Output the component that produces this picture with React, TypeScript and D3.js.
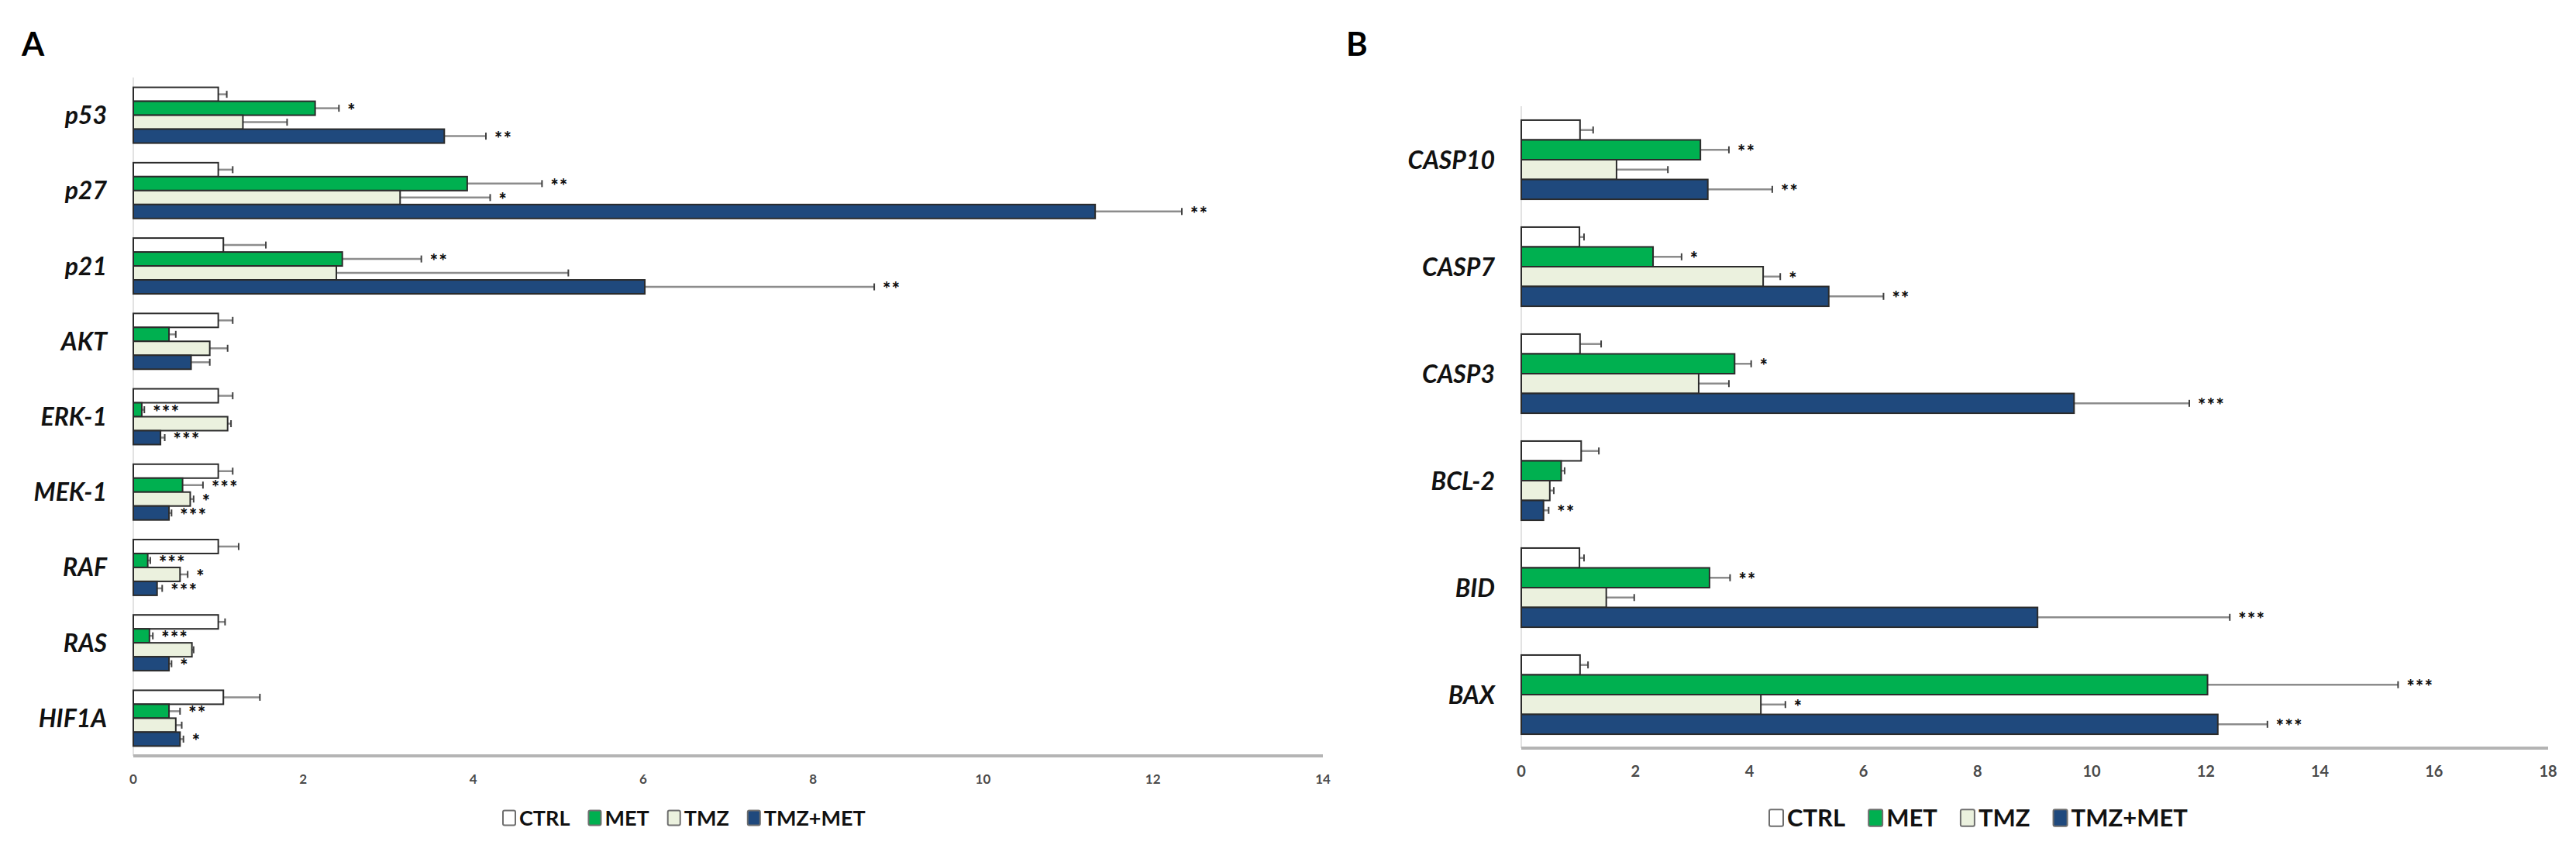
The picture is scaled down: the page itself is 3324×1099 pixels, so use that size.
import { useEffect, useRef } from 'react';
import * as d3 from 'd3';

const seriesNames = ['CTRL', 'MET', 'TMZ', 'TMZ+MET'];
const seriesColors = ['#ffffff', '#00b050', '#ebf1de', '#1f497d'];

// panel A
const genesA = ['p53', 'p27', 'p21', 'AKT', 'ERK-1', 'MEK-1', 'RAF', 'RAS', 'HIF1A'];
const ctrlA = [1.0, 1.0, 1.06, 1.0, 1.0, 1.0, 1.0, 1.0, 1.06];
const ctrlErrA = [0.1, 0.17, 0.5, 0.17, 0.17, 0.17, 0.24, 0.08, 0.43];
const metA = [2.14, 3.93, 2.46, 0.42, 0.1, 0.58, 0.17, 0.19, 0.42];
const metErrA = [0.28, 0.88, 0.93, 0.08, 0.03, 0.24, 0.03, 0.04, 0.13];
const tmzA = [1.29, 3.14, 2.39, 0.9, 1.11, 0.67, 0.55, 0.69, 0.5];
const tmzErrA = [0.52, 1.06, 2.73, 0.21, 0.04, 0.04, 0.09, 0.02, 0.07];
const comboA = [3.66, 11.32, 6.02, 0.68, 0.32, 0.42, 0.28, 0.42, 0.55];
const comboErrA = [0.49, 1.02, 2.7, 0.22, 0.05, 0.03, 0.06, 0.03, 0.04];
const sigMetA = ['*', '**', '**', '', '***', '***', '***', '***', '**'];
const sigTmzA = ['', '*', '', '', '', '*', '*', '', ''];
const sigComboA = ['**', '**', '**', '', '***', '***', '***', '*', '*'];
const ticksA = [0, 2, 4, 6, 8, 10, 12, 14];

// panel B
const genesB = ['CASP10', 'CASP7', 'CASP3', 'BCL-2', 'BID', 'BAX'];
const ctrlB = [1.03, 1.02, 1.03, 1.05, 1.02, 1.03];
const ctrlErrB = [0.23, 0.08, 0.37, 0.31, 0.08, 0.14];
const metB = [3.14, 2.31, 3.74, 0.7, 3.3, 12.03];
const metErrB = [0.5, 0.5, 0.29, 0.06, 0.36, 3.34];
const tmzB = [1.67, 4.24, 3.11, 0.5, 1.49, 4.2];
const tmzErrB = [0.9, 0.3, 0.53, 0.07, 0.49, 0.43];
const comboB = [3.27, 5.39, 9.69, 0.39, 9.05, 12.21];
const comboErrB = [1.13, 0.96, 2.02, 0.09, 3.37, 0.87];
const sigMetB = ['**', '*', '*', '', '**', '***'];
const sigTmzB = ['', '*', '', '', '', '*'];
const sigComboB = ['**', '**', '***', '**', '***', '***'];
const ticksB = [0, 2, 4, 6, 8, 10, 12, 14, 16, 18];

const FONT = 'Lato, "Open Sans", sans-serif';

interface Panel {
  letter: string; letterX: number;
  genes: string[]; vals: number[][]; errs: number[][]; sigs: string[][];
  ticks: number[]; xr: [number, number]; yr: [number, number];
  tickSize: number; legendX: number; legendSize: number; legendBox: number; legendGap: number;
}

function drawPanel(svg: d3.Selection<SVGSVGElement, unknown, null, undefined>, p: Panel) {
  const g = svg.append('g');
  const x = d3.scaleLinear().domain([0, p.ticks[p.ticks.length - 1]]).range(p.xr);
  const y = d3.scaleBand<string>().domain(p.genes).range(p.yr).paddingInner(0.26).paddingOuter(0.13);
  const sub = d3.scaleBand<number>().domain([0, 1, 2, 3]).range([0, y.bandwidth()]);

  g.append('text').attr('x', p.letterX).attr('y', 72).attr('font-family', FONT).attr('font-weight', 700)
    .attr('font-size', 42).attr('fill', '#000').text(p.letter);

  // vertical axis line
  g.append('line').attr('x1', p.xr[0]).attr('x2', p.xr[0]).attr('y1', p.yr[0]).attr('y2', p.yr[1])
    .attr('stroke', '#d9d9d9').attr('stroke-width', 1.5);

  // category labels
  g.selectAll('.cat').data(p.genes).enter().append('text')
    .attr('x', p.xr[0] - 34).attr('y', (d) => (y(d) ?? 0) + y.bandwidth() / 2)
    .attr('dy', '0.36em').attr('text-anchor', 'end')
    .attr('font-family', FONT).attr('font-weight', 700).attr('font-style', 'italic')
    .attr('font-size', 32).attr('fill', '#111').text((d) => d);

  p.vals.forEach((vals, s) => {
    const rows = p.genes.map((gene, i) => ({ gene, v: vals[i], e: p.errs[s][i], sig: p.sigs[s][i] }));
    const yc = (d: { gene: string }) => (y(d.gene) ?? 0) + (sub(s) ?? 0) + sub.bandwidth() / 2;

    // error bars
    g.selectAll(`.err${s}`).data(rows).enter().append('line')
      .attr('x1', (d) => x(d.v)).attr('x2', (d) => x(d.v + d.e))
      .attr('y1', yc).attr('y2', yc).attr('stroke', '#8c8c8c').attr('stroke-width', 2.5);
    g.selectAll(`.cap${s}`).data(rows).enter().append('line')
      .attr('x1', (d) => x(d.v + d.e)).attr('x2', (d) => x(d.v + d.e))
      .attr('y1', (d) => yc(d) - 4.5).attr('y2', (d) => yc(d) + 4.5)
      .attr('stroke', '#404040').attr('stroke-width', 2);

    g.selectAll(`.bar${s}`).data(rows).enter().append('rect')
      .attr('x', x(0)).attr('y', (d) => (y(d.gene) ?? 0) + (sub(s) ?? 0))
      .attr('width', (d) => x(d.v) - x(0)).attr('height', sub.bandwidth())
      .attr('fill', seriesColors[s]).attr('stroke', '#2b2b2b').attr('stroke-width', 2);

    g.selectAll(`.sig${s}`).data(rows.filter((d) => d.sig)).enter().append('text')
      .attr('x', (d) => x(d.v + d.e) + 11).attr('y', (d) => yc(d) + 12)
      .attr('font-family', FONT).attr('font-weight', 900).attr('font-size', 24)
      .attr('letter-spacing', 1.5).attr('fill', '#111').text((d) => d.sig);
  });

  // x axis
  const axisY = p.yr[1];
  g.append('line').attr('x1', p.xr[0]).attr('x2', p.xr[1]).attr('y1', axisY).attr('y2', axisY)
    .attr('stroke', '#b4b4b4').attr('stroke-width', 4);
  g.selectAll('.tick').data(p.ticks).enter().append('text')
    .attr('x', (d) => x(d)).attr('y', axisY + 30).attr('dy', '0.35em').attr('text-anchor', 'middle')
    .attr('font-family', FONT).attr('font-weight', 700).attr('font-size', p.tickSize)
    .attr('fill', '#4a4a4a').text((d) => String(d));

  // legend
  let lx = p.legendX;
  const ly = 1055;
  seriesNames.forEach((name, s) => {
    g.append('rect').attr('x', lx).attr('y', ly - p.legendBox * 0.6).attr('width', p.legendBox)
      .attr('height', p.legendBox * 1.2).attr('rx', 2)
      .attr('fill', seriesColors[s]).attr('stroke', '#6e6e6e').attr('stroke-width', 2);
    const t = g.append('text').attr('x', lx + p.legendBox + 5).attr('y', ly).attr('dy', '0.36em')
      .attr('font-family', FONT).attr('font-weight', 700).attr('font-size', p.legendSize)
      .attr('fill', '#111').text(name);
    const w = (t.node() as SVGTextElement).getComputedTextLength();
    lx += p.legendBox + 5 + w + p.legendGap;
  });
}

export default function App() {
  const ref = useRef<SVGSVGElement | null>(null);
  useEffect(() => {
    const svg = d3.select(ref.current!);
    svg.selectAll('*').remove();
    svg.append('rect').attr('width', 3324).attr('height', 1099).attr('fill', '#fff');
    drawPanel(svg, {
      letter: 'A', letterX: 28, genes: genesA,
      vals: [ctrlA, metA, tmzA, comboA], errs: [ctrlErrA, metErrA, tmzErrA, comboErrA],
      sigs: [genesA.map(() => ''), sigMetA, sigTmzA, sigComboA],
      ticks: ticksA, xr: [172, 1707], yr: [100, 975], tickSize: 17,
      legendX: 649, legendSize: 27, legendBox: 16, legendGap: 24,
    });
    drawPanel(svg, {
      letter: 'B', letterX: 1737, genes: genesB,
      vals: [ctrlB, metB, tmzB, comboB], errs: [ctrlErrB, metErrB, tmzErrB, comboErrB],
      sigs: [genesB.map(() => ''), sigMetB, sigTmzB, sigComboB],
      ticks: ticksB, xr: [1963, 3288], yr: [137, 965], tickSize: 20,
      legendX: 2283, legendSize: 31, legendBox: 18, legendGap: 30,
    });
  }, []);
  return <svg ref={ref} width={3324} height={1099} style={{ position: 'absolute', left: 0, top: 0 }} />;
}
